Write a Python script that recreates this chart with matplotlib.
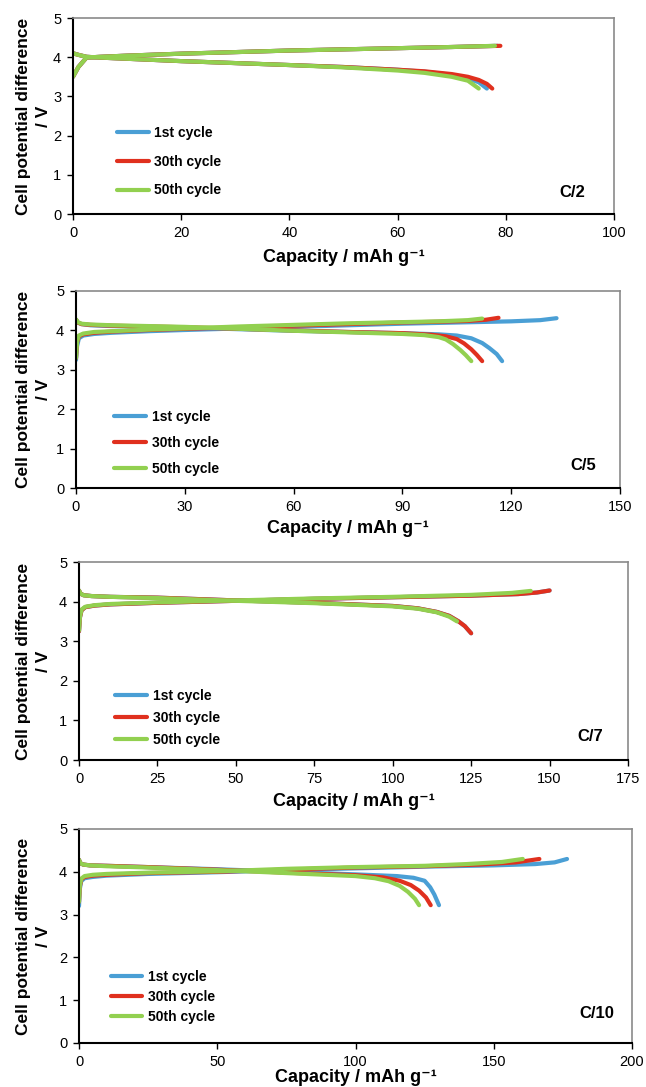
import numpy as np
import matplotlib
matplotlib.use('Agg')
import matplotlib.pyplot as plt

plt.rcParams['font.family'] = ['Liberation Sans', 'DejaVu Sans']

labels = ['1st cycle', '30th cycle', '50th cycle']
colors = ['#4a9fd5', '#e0301e', '#92d050']

# C/2
c2_chg_x = [[0, 1, 2.5, 5, 10, 20, 30, 40, 50, 60, 70, 78.5],
            [0, 1, 2.5, 5, 10, 20, 30, 40, 50, 60, 70, 79],
            [0, 1, 2.5, 5, 10, 20, 30, 40, 50, 60, 70, 78]]
c2_chg_y = [[3.5, 3.75, 3.99, 4.01, 4.04, 4.09, 4.13, 4.17, 4.2, 4.23, 4.26, 4.29],
            [3.5, 3.75, 3.99, 4.01, 4.04, 4.09, 4.13, 4.17, 4.2, 4.23, 4.26, 4.29],
            [3.5, 3.75, 3.99, 4.01, 4.04, 4.09, 4.13, 4.17, 4.2, 4.23, 4.26, 4.29]]
c2_dis_x = [[0, 1, 2.5, 5, 10, 20, 30, 40, 50, 60, 65, 70, 73, 75, 76.5],
            [0, 1, 2.5, 5, 10, 20, 30, 40, 50, 60, 65, 70, 73, 75, 76.5, 77.5],
            [0, 1, 2.5, 5, 10, 20, 30, 40, 50, 60, 65, 70, 73, 75]]
c2_dis_y = [[4.1, 4.06, 4.01, 3.99, 3.96, 3.9, 3.85, 3.8, 3.75, 3.68, 3.63, 3.55, 3.46, 3.36, 3.2],
            [4.1, 4.06, 4.01, 3.99, 3.96, 3.9, 3.85, 3.8, 3.75, 3.68, 3.64, 3.57, 3.5, 3.42, 3.32, 3.2],
            [4.1, 4.06, 4.01, 3.99, 3.96, 3.9, 3.85, 3.8, 3.74, 3.66, 3.6, 3.5, 3.4, 3.2]]

# C/5
c5_chg_x = [[0, 0.3, 0.8, 2, 5, 10, 20, 30, 45, 60, 75, 90, 105, 120, 128, 132.5],
            [0, 0.3, 0.8, 2, 5, 10, 20, 30, 45, 60, 75, 90, 100, 108, 113, 116.5],
            [0, 0.3, 0.8, 2, 5, 10, 20, 30, 45, 60, 75, 90, 100, 108, 112]]
c5_chg_y = [[3.25, 3.6, 3.8, 3.87, 3.91, 3.94, 3.98, 4.01, 4.05, 4.09, 4.13, 4.17, 4.2, 4.23, 4.26, 4.31],
            [3.3, 3.7, 3.85, 3.9, 3.94, 3.97, 4.01, 4.04, 4.08, 4.12, 4.16, 4.2, 4.22, 4.24, 4.27, 4.32],
            [3.3, 3.72, 3.87, 3.92, 3.96, 3.98, 4.02, 4.05, 4.1, 4.14, 4.18, 4.21, 4.23, 4.26, 4.3]]
c5_dis_x = [[0, 0.5, 1.5, 4, 10, 20, 30, 45, 60, 75, 90, 100, 105, 109, 112, 114, 116, 117.5],
            [0, 0.5, 1.5, 4, 10, 20, 30, 45, 60, 75, 90, 98, 102, 105, 107, 109, 110.5, 112],
            [0, 0.5, 1.5, 4, 10, 20, 30, 45, 60, 75, 90, 96, 100, 102, 104, 106, 107.5, 109]]
c5_dis_y = [[4.27, 4.2, 4.16, 4.13, 4.11, 4.09, 4.07, 4.03, 3.99, 3.96, 3.93, 3.9, 3.87, 3.8, 3.68, 3.55, 3.4, 3.22],
            [4.27, 4.2, 4.16, 4.14, 4.12, 4.1, 4.08, 4.04, 4.0, 3.96, 3.93, 3.89, 3.85, 3.78, 3.67, 3.52, 3.38, 3.22],
            [4.28, 4.21, 4.17, 4.15, 4.13, 4.11, 4.09, 4.04, 3.99, 3.95, 3.91, 3.88, 3.83, 3.77, 3.65, 3.5, 3.37, 3.22]]

# C/7
c7_chg_x = [[0, 0.3, 0.8, 2, 5, 10, 25, 50, 75, 100, 125, 140, 146, 150],
            [0, 0.3, 0.8, 2, 5, 10, 25, 50, 75, 100, 125, 140, 146, 150],
            [0, 0.3, 0.8, 2, 5, 10, 25, 50, 75, 100, 125, 138, 144]]
c7_chg_y = [[3.25, 3.6, 3.78, 3.86, 3.9, 3.93, 3.97, 4.02, 4.07, 4.11, 4.15, 4.19, 4.23, 4.28],
            [3.25, 3.6, 3.78, 3.86, 3.9, 3.93, 3.97, 4.02, 4.07, 4.11, 4.15, 4.19, 4.23, 4.28],
            [3.27, 3.62, 3.8, 3.87, 3.91, 3.94, 3.98, 4.03, 4.08, 4.12, 4.17, 4.22, 4.27]]
c7_dis_x = [[0, 0.5, 1.5, 4, 10, 25, 50, 75, 100, 108, 114, 118, 121, 123, 125],
            [0, 0.5, 1.5, 4, 10, 25, 50, 75, 100, 108, 114, 118, 121, 123, 125],
            [0, 0.5, 1.5, 4, 10, 25, 50, 75, 100, 108, 114, 118, 120.5]]
c7_dis_y = [[4.28, 4.2, 4.16, 4.14, 4.12, 4.1, 4.03, 3.97, 3.89, 3.83, 3.74, 3.64, 3.5, 3.38, 3.2],
            [4.28, 4.2, 4.16, 4.14, 4.12, 4.1, 4.03, 3.97, 3.89, 3.83, 3.74, 3.64, 3.5, 3.38, 3.2],
            [4.28, 4.2, 4.16, 4.14, 4.12, 4.09, 4.02, 3.96, 3.88, 3.82, 3.73, 3.62, 3.5]]

# C/10
c10_chg_x = [[0, 0.3, 0.8, 2, 5, 10, 25, 50, 75, 100, 125, 150, 165, 172, 176.5],
             [0, 0.3, 0.8, 2, 5, 10, 25, 50, 75, 100, 125, 145, 158, 166.5],
             [0, 0.3, 0.8, 2, 5, 10, 25, 50, 75, 100, 125, 140, 153, 160.5]]
c10_chg_y = [[3.2, 3.6, 3.78, 3.85, 3.88, 3.91, 3.95, 3.99, 4.04, 4.08, 4.12, 4.15, 4.18, 4.22, 4.3],
             [3.3, 3.65, 3.82, 3.88, 3.91, 3.93, 3.97, 4.0, 4.05, 4.1, 4.13, 4.17, 4.22, 4.3],
             [3.3, 3.68, 3.84, 3.9, 3.93, 3.95, 3.98, 4.01, 4.07, 4.11, 4.14, 4.18, 4.23, 4.3]]
c10_dis_x = [[0, 0.5, 1.5, 4, 10, 25, 50, 75, 100, 115, 121, 125, 127, 128.5, 130.2],
             [0, 0.5, 1.5, 4, 10, 25, 50, 75, 100, 110, 116, 120, 123, 125.5, 127.2],
             [0, 0.5, 1.5, 4, 10, 25, 50, 75, 100, 107, 112, 116, 119, 121.5, 123]]
c10_dis_y = [[4.28, 4.2, 4.17, 4.15, 4.14, 4.11, 4.06, 4.0, 3.94, 3.9, 3.86, 3.79, 3.64, 3.47, 3.22],
             [4.28, 4.2, 4.17, 4.15, 4.14, 4.11, 4.05, 3.98, 3.92, 3.87, 3.79, 3.69, 3.56, 3.4, 3.22],
             [4.28, 4.2, 4.17, 4.15, 4.13, 4.1, 4.04, 3.97, 3.9, 3.85, 3.78, 3.67, 3.53, 3.37, 3.22]]

W, H = 646, 1087
# (left px, top px, right px, bottom px)
panels = [
    dict(rate='C/2', xmax=100, step=20, chg=(c2_chg_x, c2_chg_y), dis=(c2_dis_x, c2_dis_y),
         box=(73, 18, 614, 214), leg=(0.081, 0.267), ls=1.06, tag=(0.922, 0.109), lpad=6.5),
    dict(rate='C/5', xmax=150, step=30, chg=(c5_chg_x, c5_chg_y), dis=(c5_dis_x, c5_dis_y),
         box=(76, 291, 620, 488), leg=(0.07, 0.228), ls=0.85, tag=(0.932, 0.113), lpad=4.5),
    dict(rate='C/7', xmax=175, step=25, chg=(c7_chg_x, c7_chg_y), dis=(c7_dis_x, c7_dis_y),
         box=(79, 562, 628, 760), leg=(0.066, 0.212), ls=0.56, tag=(0.932, 0.119), lpad=5.5),
    dict(rate='C/10', xmax=200, step=50, chg=(c10_chg_x, c10_chg_y), dis=(c10_dis_x, c10_dis_y),
         box=(79, 829, 632, 1043), leg=(0.057, 0.216), ls=0.42, tag=(0.937, 0.138), lpad=0.5),
]

fig = plt.figure(figsize=(W / 100, H / 100), dpi=100)

for p in panels:
    l, t, r, b = p['box']
    ax = fig.add_axes([l / W, 1 - b / H, (r - l) / W, (b - t) / H])
    for i in range(3):
        ax.plot(p['chg'][0][i], p['chg'][1][i], color=colors[i], lw=3,
                solid_capstyle='round', label=labels[i])
        ax.plot(p['dis'][0][i], p['dis'][1][i], color=colors[i], lw=3,
                solid_capstyle='round')
    ax.set_xlim(0, p['xmax'])
    ax.set_ylim(0, 5)
    ax.set_xticks(np.arange(0, p['xmax'] + 1, p['step']))
    ax.set_yticks(range(6))
    ax.tick_params(labelsize=10.5, direction='out', length=4, width=1, pad=4.5)
    for s in ['left', 'bottom']:
        ax.spines[s].set_linewidth(1.5)
        ax.spines[s].set_color('black')
    for s in ['top', 'right']:
        ax.spines[s].set_linewidth(1.2)
        ax.spines[s].set_color('#8a8a8a')
    ax.set_xlabel('Capacity / mAh g⁻¹', fontsize=13, fontweight='bold', labelpad=p['lpad'])
    ax.set_ylabel('Cell potential difference\n/ V', fontsize=12.5, fontweight='bold',
                  linespacing=1.4)
    ax.yaxis.set_label_coords((51 - l) / (r - l), 0.5)
    ax.text(p['tag'][0], p['tag'][1], p['rate'], transform=ax.transAxes, fontsize=12,
            fontweight='bold', ha='center', va='center')
    ax.legend(loc='center left', bbox_to_anchor=p['leg'], frameon=False,
              prop={'weight': 'bold', 'size': 10}, handlelength=2.3, handletextpad=0.4,
              labelspacing=p['ls'], borderpad=0, borderaxespad=0)

fig.savefig('out.png', dpi=100)
